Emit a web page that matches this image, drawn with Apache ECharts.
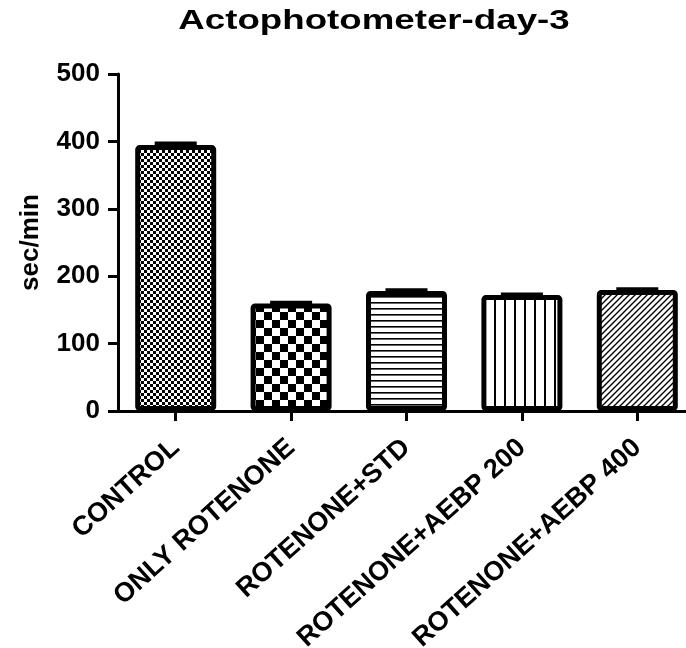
<!DOCTYPE html>
<html>
<head>
<meta charset="utf-8">
<script src="https://cdn.jsdelivr.net/npm/echarts@6/dist/echarts.min.js"></script>
<style>
  html, body { margin: 0; padding: 0; background: #fff; }
  #chart { width: 686px; height: 648px; }
</style>
</head>
<body>
<div id="chart"></div>
<script>
// Group names, mean activity (sec/min) and SEM per group
const categories = ['CONTROL', 'ONLY ROTENONE', 'ROTENONE+STD', 'ROTENONE+AEBP 200', 'ROTENONE+AEBP 400'];
const means = [394.5, 159.5, 178, 172, 179.5];
const sem = [2.5, 1, 1, 1, 1];
const yMin = 0;
const yMax = 500;
const yStep = 100;

const FONT = '"Liberation Sans", Arial, sans-serif';

// Small repeating tiles used as bar fills
function tile(w, h, draw) {
  const c = document.createElement('canvas');
  c.width = w; c.height = h;
  const ctx = c.getContext('2d');
  ctx.fillStyle = '#fff';
  ctx.fillRect(0, 0, w, h);
  ctx.fillStyle = '#000';
  ctx.strokeStyle = '#000';
  draw(ctx, w, h);
  return { image: c, repeat: 'repeat' };
}
function checker(cell) {
  return tile(cell * 2, cell * 2, (ctx) => {
    ctx.fillRect(0, 0, cell, cell);
    ctx.fillRect(cell, cell, cell, cell);
  });
}
const fills = [
  checker(3),
  checker(8),
  tile(6, 6, (ctx, w) => { ctx.fillRect(0, 2, w, 1.6); }),
  tile(10, 10, (ctx, w, h) => { ctx.fillRect(4, 0, 2, h); }),
  tile(6, 6, (ctx, w, h) => {
    ctx.lineWidth = 1.4;
    ctx.beginPath();
    ctx.moveTo(-1, h + 1); ctx.lineTo(w + 1, -1);
    ctx.moveTo(-1 - w, h + 1); ctx.lineTo(1, -1);
    ctx.moveTo(w - 1, h + 1); ctx.lineTo(2 * w + 1, -1);
    ctx.stroke();
  })
];

const chart = echarts.init(document.getElementById('chart'), null, { renderer: 'canvas' });

chart.setOption({
  backgroundColor: '#fff',
  animation: false,
  graphic: [{
    type: 'text',
    x: 374,
    y: 21,
    scaleX: 1.31,
    style: {
      text: 'Actophotometer-day-3',
      font: 'bold 28px ' + FONT,
      fill: '#000',
      align: 'center',
      verticalAlign: 'middle'
    }
  }],
  grid: { left: 118, top: 74, width: 577, height: 337, containLabel: false, outerBoundsMode: 'none' },
  xAxis: {
    type: 'category',
    data: categories,
    axisLine: { show: true, lineStyle: { color: '#000', width: 3 } },
    axisTick: { show: true, alignWithLabel: true, length: 10, lineStyle: { color: '#000', width: 3 } },
    axisLabel: {
      interval: 0,
      rotate: 42,
      margin: 33,
      color: '#000',
      fontFamily: FONT,
      fontWeight: 'bold',
      fontSize: 27
    },
    splitLine: { show: false }
  },
  yAxis: {
    type: 'value',
    min: yMin,
    max: yMax,
    interval: yStep,
    name: 'sec/min',
    nameLocation: 'middle',
    nameGap: 74,
    nameRotate: 90,
    nameTextStyle: { color: '#000', fontFamily: FONT, fontWeight: 'bold', fontSize: 26 },
    axisLine: { show: true, lineStyle: { color: '#000', width: 3 } },
    axisTick: { show: true, length: 10, lineStyle: { color: '#000', width: 3 } },
    axisLabel: { margin: 18, color: '#000', fontFamily: FONT, fontWeight: 'bold', fontSize: 26 },
    splitLine: { show: false }
  },
  series: [
    {
      type: 'bar',
      barWidth: 81,
      data: means.map((v, i) => ({
        value: v,
        itemStyle: { color: fills[i] }
      })),
      itemStyle: { borderColor: '#000', borderWidth: 5, borderRadius: 2 },
      z: 2
    },
    {
      // SEM whisker with cap above each bar
      type: 'custom',
      data: means.map((v, i) => [i, v, v + sem[i]]),
      renderItem: function (params, api) {
        const i = api.value(0);
        const base = api.coord([i, api.value(1)]);
        const top = api.coord([i, api.value(2)]);
        const half = api.size([1, 0])[0] * 0.182;
        return {
          type: 'group',
          children: [
            { type: 'line', shape: { x1: base[0], y1: base[1], x2: top[0], y2: top[1] },
              style: { stroke: '#000', lineWidth: 3 } },
            { type: 'line', shape: { x1: top[0] - half, y1: top[1], x2: top[0] + half, y2: top[1] },
              style: { stroke: '#000', lineWidth: 4 } }
          ]
        };
      },
      z: 3
    }
  ]
});
</script>
</body>
</html>
